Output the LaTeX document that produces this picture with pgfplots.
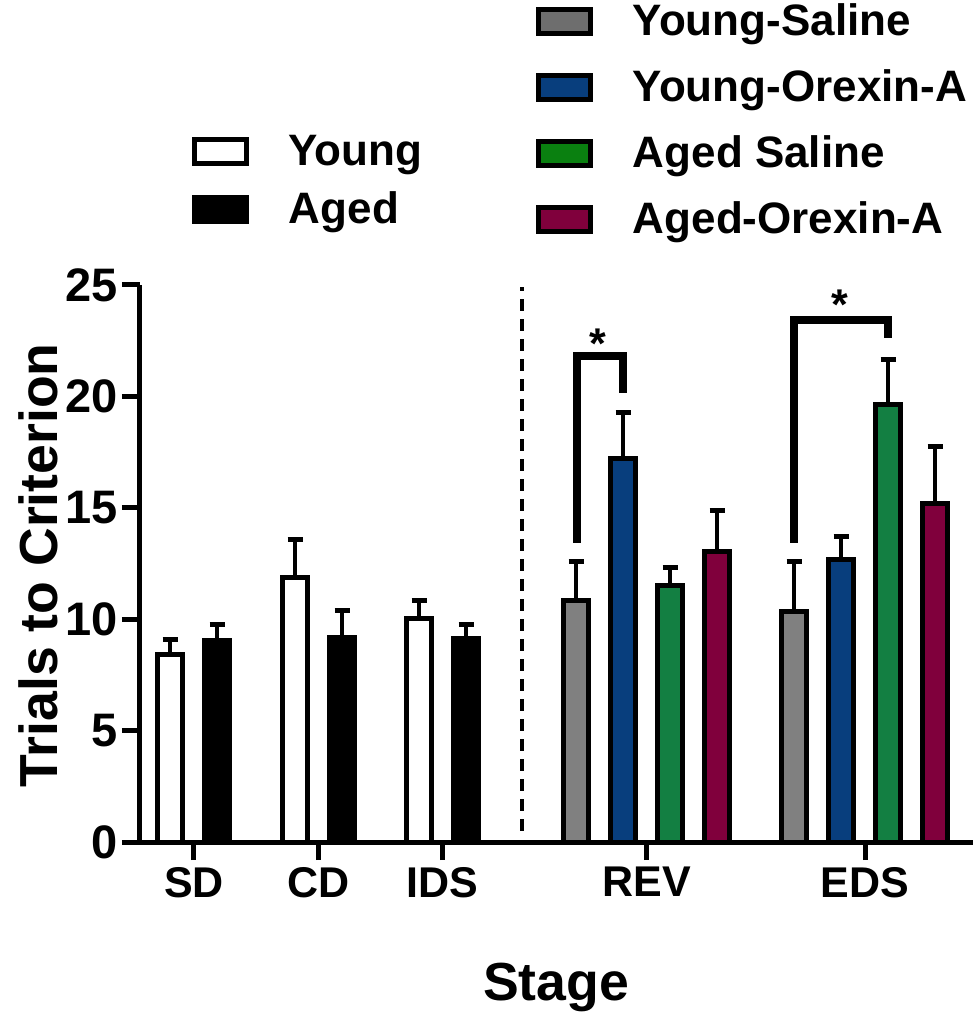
\documentclass[border=0pt]{standalone}
\usepackage{pgfplots}
\pgfplotsset{compat=1.18}
\usepackage{fontspec}
\setmainfont{Liberation Sans}
\definecolor{cgrey}{HTML}{808080}
\definecolor{cblue}{HTML}{083E7D}
\definecolor{cgreen}{HTML}{137F42}
\definecolor{cmaroon}{HTML}{80003C}
\definecolor{lgrey}{HTML}{6E6E6E}
\definecolor{lgreen}{HTML}{0A8010}
\newcommand{\fLab}{\fontsize{26.8}{30}\selectfont\bfseries}
\newcommand{\fYt}{\fontsize{23.5}{26}\selectfont\bfseries}
\newcommand{\fXt}{\fontsize{21.5}{25}\selectfont\bfseries}
\newcommand{\fLeg}{\fontsize{22}{26}\selectfont\bfseries}
\pgfplotsset{
  mybar/.style={ybar, bar width=25, bar shift=0pt, draw=black, line width=2.5pt,
    error bars/.cd, y dir=plus, y explicit,
    error bar style={line width=2pt, black},
    error mark options={rotate=90, line width=2.5pt, mark size=3.75pt, black}},
}
\begin{document}
\begin{tikzpicture}
\useasboundingbox (-70pt,-86.5pt) rectangle (418pt,421pt);
\begin{axis}[
  scale only axis, width=416.5pt, height=278.5pt,
  xmin=140, xmax=973, ymin=0, ymax=25,
  axis x line*=bottom, axis y line*=left,
  axis line style={line width=2.5pt, black},
  ytick={0,5,10,15,20,25},
  xtick={194,318.5,442.5,646.5,865},
  xticklabels={SD,CD,IDS,REV,EDS},
  tick align=outside,
  major tick length=9pt,
  tick style={line width=2.5pt, black},
  /pgf/number format/assume math mode=true,
  yticklabel style={font=\fYt, xshift=1.5pt},
  xticklabel style={font=\fXt},
  xlabel={Stage}, ylabel={Trials to Criterion},
  every axis y label/.style={at={(axis description cs:-0.1224,0.497)}, rotate=90, anchor=center, font=\fLab},
  every axis x label/.style={at={(axis description cs:0.4994,-0.2837)}, anchor=base, font=\fLab},
  clip=false,
]
% Young (white)
\addplot[fill=white, mybar] coordinates {(170,8.4) +- (0,0.7) (295,11.88) +- (0,1.7) (419,10.05) +- (0,0.8)};
% Aged (black)
\addplot[fill=black, mybar] coordinates {(217,9.05) +- (0,0.72) (342,9.2) +- (0,1.2) (466,9.12) +- (0,0.65)};
% Young-Saline
\addplot[fill=cgrey, mybar] coordinates {(576,10.82) +- (0,1.79) (794,10.35) +- (0,2.25)};
% Young-Orexin-A
\addplot[fill=cblue, mybar] coordinates {(623,17.2) +- (0,2.07) (841,12.7) +- (0,1.02)};
% Aged Saline
\addplot[fill=cgreen, mybar] coordinates {(670,11.5) +- (0,0.83) (888,19.62) +- (0,2.03)};
% Aged-Orexin-A
\addplot[fill=cmaroon, mybar] coordinates {(717,13.06) +- (0,1.84) (935,15.2) +- (0,2.55)};
% dashed separator
\draw[line width=2pt, dash pattern=on 6pt off 4pt] (axis cs:522,0.5) -- (axis cs:522,24.9);
% significance brackets
\draw[line width=4pt, line join=miter] (axis cs:576.7,13.44) |- (axis cs:622.7,21.81) -- (axis cs:622.7,20.17);
\draw[line width=4pt, line join=miter] (axis cs:794,13.43) |- (axis cs:888,23.43) -- (axis cs:888,22.62);
\node[anchor=base, font=\fXt, inner sep=0pt] at (axis cs:598,21.72) {*};
\node[anchor=base, font=\fXt, inner sep=0pt] at (axis cs:840,23.45) {*};
\end{axis}
% legend 1
\begin{axis}[
  scale only axis, width=416.5pt, height=278.5pt, hide axis,
  xmin=0, xmax=1, ymin=0, ymax=1,
  legend cell align=left,
  legend style={draw=none, fill=none, at={(0.0546,1.279)}, anchor=north west,
    row sep=8pt, /tikz/every odd column/.append style={column sep=20pt},
    nodes={inner sep=0pt, font=\fLeg, text height=16pt, text depth=5pt}},
  legend image code/.code={\draw[#1, line width=2.5pt] (0pt,-4.15pt) rectangle (26pt,7.85pt);},
]
\addlegendimage{fill=white, draw=black}
\addlegendentry{Young}
\addlegendimage{fill=black, draw=black}
\addlegendentry{Aged}
\end{axis}
% legend 2
\begin{axis}[
  scale only axis, width=416.5pt, height=278.5pt, hide axis,
  xmin=0, xmax=1, ymin=0, ymax=1,
  legend cell align=left,
  legend style={draw=none, fill=none, at={(0.4676,1.5127)}, anchor=north west,
    row sep=12pt, /tikz/every odd column/.append style={column sep=20pt},
    nodes={inner sep=0pt, font=\fLeg, text height=16pt, text depth=5pt}},
  legend image code/.code={\draw[#1, line width=2.5pt] (0pt,-4.15pt) rectangle (26pt,7.85pt);},
]
\addlegendimage{fill=lgrey, draw=black}
\addlegendentry{Young-Saline}
\addlegendimage{fill=cblue, draw=black}
\addlegendentry{Young-Orexin-A}
\addlegendimage{fill=lgreen, draw=black}
\addlegendentry{Aged Saline}
\addlegendimage{fill=cmaroon, draw=black}
\addlegendentry{Aged-Orexin-A}
\end{axis}
\end{tikzpicture}
\end{document}
